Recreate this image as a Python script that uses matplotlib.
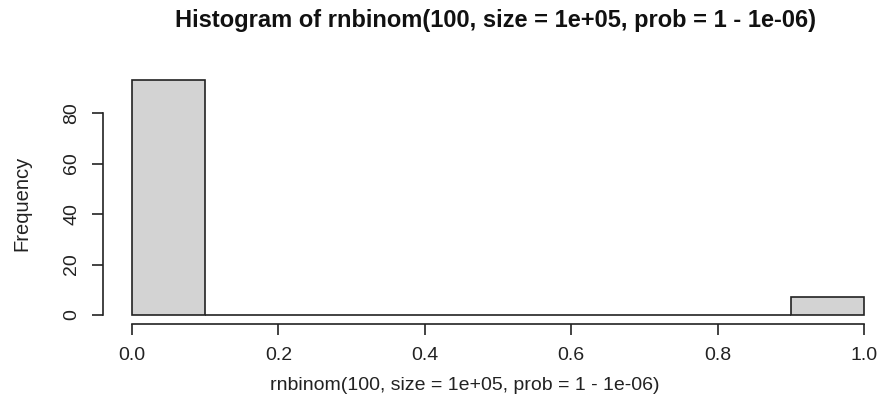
import numpy as np
import matplotlib.pyplot as plt

plt.rcParams['font.family'] = ['Liberation Sans', 'DejaVu Sans']

# histogram of rnbinom(100, size=1e5, prob=1-1e-6), bins of width 0.1
breaks = np.linspace(0, 1, 11)
counts = [93, 0, 0, 0, 0, 0, 0, 0, 0, 7]
yticks = [0, 20, 40, 60, 80]
xticks = [0.0, 0.2, 0.4, 0.6, 0.8, 1.0]

W, H = 879, 417
fig = plt.figure(figsize=(W / 100, H / 100), dpi=100)
# plot region in pixels (R-style, cropped on the right)
x0, x1 = 102.7, 893.3
ytop, ybot = 70.8, 324.4
ax = fig.add_axes([x0 / W, 1 - ybot / H, (x1 - x0) / W, (ybot - ytop) / H])

ax.bar(breaks[:-1], counts, width=np.diff(breaks), align='edge',
       color='#d3d3d3', edgecolor='#222222', linewidth=1.2)

ax.set_xlim(-0.04, 1.04)
ax.set_ylim(-0.04 * 93, 93 * 1.04)

for s in ['top', 'right']:
    ax.spines[s].set_visible(False)
ax.spines['left'].set_bounds(0, 80)
ax.spines['bottom'].set_bounds(0, 1)
ax.spines['left'].set_linewidth(1.2)
ax.spines['bottom'].set_linewidth(1.2)
ax.spines['left'].set_color('#222222')
ax.spines['bottom'].set_color('#222222')

ax.set_yticks(yticks)
ax.set_yticklabels([str(v) for v in yticks], rotation=90, va='center')
ax.set_xticks(xticks)
ax.set_xticklabels([f"{v:.1f}" for v in xticks])
ax.tick_params(length=8, width=1.2, labelsize=14, color='#222222', labelcolor='#222222')
ax.tick_params(axis='x', pad=8)
ax.tick_params(axis='y', pad=8)

fig.text(22 / W, 1 - 203 / H, "Frequency", rotation=90, ha='center', va='center',
         fontsize=14.5, color='#222222')
fig.text(465 / W, 1 - 385 / H, "rnbinom(100, size = 1e+05, prob = 1 - 1e-06)",
         ha='center', va='center', fontsize=14, color='#222222')
fig.text(496 / W, 1 - 21 / H, "Histogram of rnbinom(100, size = 1e+05, prob = 1 - 1e-06)",
         ha='center', va='center', fontsize=17, fontweight='bold', color='#111111')

fig.savefig("out.png", dpi=100)
plt.close()
